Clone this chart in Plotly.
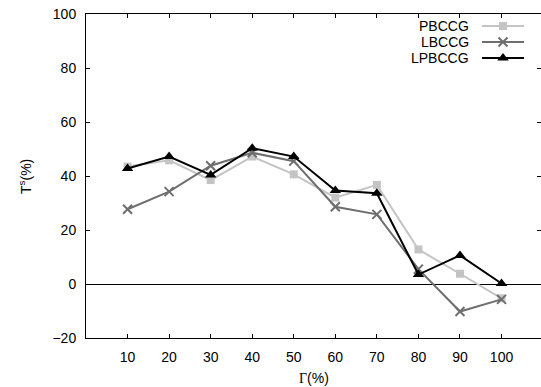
import plotly.graph_objects as go

gamma = [10, 20, 30, 40, 50, 60, 70, 80, 90, 100]
pbccg = [43.5, 45.8, 38.5, 47.2, 40.6, 32.0, 36.7, 12.8, 3.8, -5.3]
lbccg = [27.7, 34.2, 43.8, 48.6, 45.5, 28.6, 25.8, 5.5, -10.2, -5.7]
lpbccg = [42.8, 47.2, 40.4, 50.3, 47.2, 34.6, 33.6, 3.5, 10.6, 0.2]
names = ["PBCCG", "LBCCG", "LPBCCG"]
colors = ["#c4c4c4", "#6e6e6e", "#000000"]
symbols = ["square", "x-thin", "triangle-up"]
yticks = [-20, 0, 20, 40, 60, 80, 100]

W, H = 541, 387
L, R, T, B = 86, 0, 14, 49
PW, PH = W - L - R, H - T - B
FONT = "Liberation Sans, Arial, sans-serif"


def px2paper(px, py):
    return (px - L) / PW, (H - B - py) / PH


fig = go.Figure()
series = [pbccg, lbccg, lpbccg]
msize = [8, 9, 10]
for s, n, c, sym, ms in zip(series, names, colors, symbols, msize):
    mk = dict(symbol=sym, size=ms, color=c)
    if sym == "x-thin":
        mk["line"] = dict(color=c, width=2)
    fig.add_trace(go.Scatter(x=gamma, y=s, mode="lines+markers", name=n,
                             line=dict(color=c, width=2), marker=mk,
                             showlegend=False, cliponaxis=False))

# manual gnuplot-style legend (pixel coordinates on helper axes)
leg_y = [26, 42, 58]
for n, c, sym, ms, ly in zip(names, colors, symbols, msize, leg_y):
    mk = dict(symbol=sym, size=ms, color=c)
    if sym == "x-thin":
        mk["line"] = dict(color=c, width=2)
    fig.add_trace(go.Scatter(x=[482, 524], y=[ly, ly], mode="lines", xaxis="x2", yaxis="y2",
                             line=dict(color=c, width=2), showlegend=False, hoverinfo="skip"))
    fig.add_trace(go.Scatter(x=[503], y=[ly], mode="markers", xaxis="x2", yaxis="y2",
                             marker=mk, showlegend=False, hoverinfo="skip"))
    fig.add_annotation(x=471, y=ly, xref="x2", yref="y2", text=n, showarrow=False,
                       xanchor="right", yanchor="middle",
                       font=dict(family=FONT, size=14, color="black"))

# axis titles as annotations at fixed pixel positions
xt = px2paper(313.5, 377.7)
fig.add_annotation(x=xt[0], y=xt[1], xref="paper", yref="paper", showarrow=False,
                   xanchor="center", yanchor="middle",
                   text='<span style="font-family:Liberation Serif">Γ</span>(%)',
                   font=dict(family=FONT, size=14, color="black"))
yt = px2paper(25, 177)
fig.add_annotation(x=yt[0], y=yt[1], xref="paper", yref="paper", showarrow=False, textangle=-90,
                   xanchor="center", yanchor="middle", text="T<sup>s</sup>(%)",
                   font=dict(family=FONT, size=14, color="black"))

axis_common = dict(ticks="inside", ticklen=4, tickwidth=1, tickcolor="black",
                   showgrid=False, linecolor="black", linewidth=1, automargin=False,
                   tickfont=dict(family=FONT, size=14, color="black"))

fig.update_layout(
    width=W, height=H, margin=dict(l=L, r=R, t=T, b=B, autoexpand=False),
    paper_bgcolor="white", plot_bgcolor="white",
    xaxis=dict(range=[0, 109.5], tickvals=gamma, showline=True, mirror="ticks",
               zeroline=False, ticklabelstandoff=6, **axis_common),
    yaxis=dict(range=[-20, 100], tickvals=yticks, showline=True, mirror=False,
               zeroline=True, zerolinecolor="black", zerolinewidth=1,
               ticklabelstandoff=6, **axis_common),
    yaxis3=dict(range=[-20, 100], tickvals=yticks, overlaying="y", side="right",
                showticklabels=False, showline=False, zeroline=False, automargin=False,
                ticks="inside", ticklen=4, tickcolor="black", showgrid=False),
    xaxis2=dict(range=[L, W - R], domain=[0, 1], anchor="y2", overlaying="x",
                visible=False, automargin=False),
    yaxis2=dict(range=[H - B, T], domain=[0, 1], anchor="x2", overlaying="y",
                visible=False, automargin=False),
)
fig.add_trace(go.Scatter(x=[None], y=[None], yaxis="y3", showlegend=False))

fig.write_html("out.html", config={"displayModeBar": False},
               post_script="document.body.style.margin='0px';")
